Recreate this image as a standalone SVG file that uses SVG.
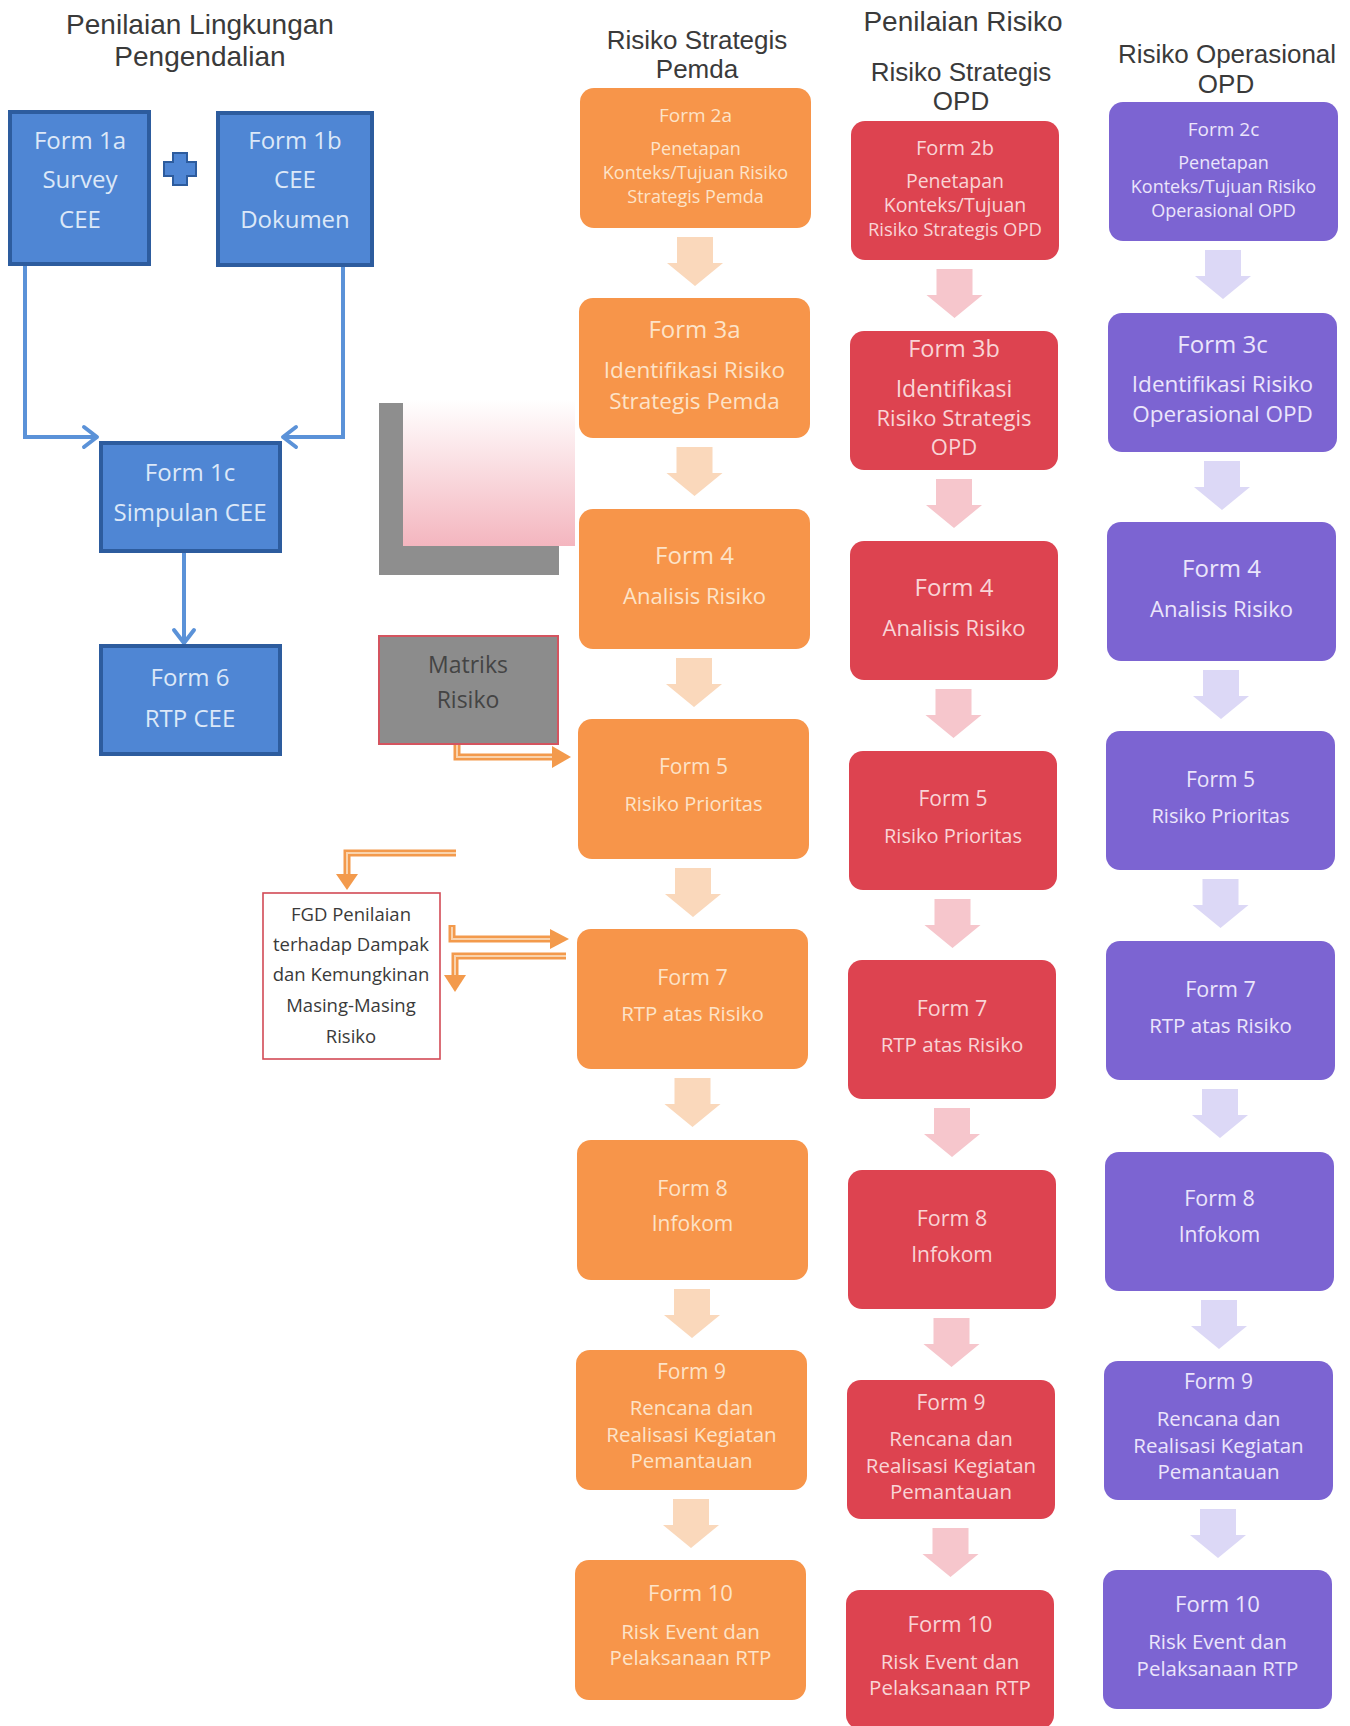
<svg xmlns="http://www.w3.org/2000/svg" width="1350" height="1726" viewBox="0 0 1350 1726">
<defs>
<style>
.h{font-family:"Liberation Sans",Arial,sans-serif;fill:#3a3a3a;text-anchor:middle}
.h1{font-size:28px}
.h2{font-size:26px}
.t{font-family:"Open Sans","Noto Sans",sans-serif;text-anchor:middle}
.ob{fill:#f7954a}
.rb{fill:#dd4350}
.pb{fill:#7c64d2}
.bb{fill:#4f86d4;stroke:#2d5c9e;stroke-width:4}
.ot{fill:#fde3c8}
.rt{fill:#f9d4d6}
.pt{fill:#ebe5fb}
.bt{fill:#dce8f8;font-size:24px}
.oa{fill:#fad8bb}
.ra{fill:#f6c6cc}
.pa{fill:#dcd8f6}
.bl{fill:none;stroke:#5b92d8;stroke-width:4}
.bh{fill:none;stroke:#5b92d8;stroke-width:4;stroke-linecap:round;stroke-linejoin:round}
.oc{fill:none;stroke:#f39a4c;stroke-width:7}
.oci{fill:none;stroke:#f9d3ad;stroke-width:2}
.ah{fill:#f39a4c}
</style>
<linearGradient id="pinkg" x1="0" y1="0" x2="0" y2="1">
<stop offset="0" stop-color="#ffffff"/>
<stop offset="1" stop-color="#f4b6bf"/>
</linearGradient>
</defs>
<rect width="1350" height="1726" fill="#ffffff"/>

<!-- headings -->
<g id="headings">
<text class="h h1" x="200" y="34">Penilaian Lingkungan</text>
<text class="h h1" x="200" y="66">Pengendalian</text>
<text class="h h1" x="963" y="31">Penilaian Risiko</text>
<text class="h h2" x="697" y="49">Risiko Strategis</text>
<text class="h h2" x="697" y="78">Pemda</text>
<text class="h h2" x="961" y="81">Risiko Strategis</text>
<text class="h h2" x="961" y="110">OPD</text>
<text class="h h2" x="1227" y="63">Risiko Operasional</text>
<text class="h h2" x="1226" y="93">OPD</text>
</g>

<!-- connectors -->
<g id="connectors">
<!-- blue -->
<path class="bl" d="M25 265 V437 H96"/>
<path class="bh" d="M84 427 L97 437 L84 447"/>
<path class="bl" d="M343 265 V437 H284"/>
<path class="bh" d="M296 427 L283 437 L296 447"/>
<path class="bl" d="M184 553 V642"/>
<path class="bh" d="M174 630 L184 643 L194 630"/>
<!-- block arrows orange -->
<path class="oa" d="M677 237 H713 V263 H723 L695 286 L667 263 H677 Z"/>
<path class="oa" d="M676.5 447 H712.5 V473 H722.5 L694.5 496 L666.5 473 H676.5 Z"/>
<path class="oa" d="M676 658 H712 V684 H722 L694 707 L666 684 H676 Z"/>
<path class="oa" d="M675 868 H711 V894 H721 L693 917 L665 894 H675 Z"/>
<path class="oa" d="M674.5 1078 H710.5 V1104 H720.5 L692.5 1127 L664.5 1104 H674.5 Z"/>
<path class="oa" d="M674 1289 H710 V1315 H720 L692 1338 L664 1315 H674 Z"/>
<path class="oa" d="M673 1499 H709 V1525 H719 L691 1548 L663 1525 H673 Z"/>
<!-- block arrows red -->
<path class="ra" d="M936.5 269 H972.5 V295 H982.5 L954.5 318 L926.5 295 H936.5 Z"/>
<path class="ra" d="M936 479 H972 V505 H982 L954 528 L926 505 H936 Z"/>
<path class="ra" d="M935.5 689 H971.5 V715 H981.5 L953.5 738 L925.5 715 H935.5 Z"/>
<path class="ra" d="M934.5 899 H970.5 V925 H980.5 L952.5 948 L924.5 925 H934.5 Z"/>
<path class="ra" d="M934 1108 H970 V1134 H980 L952 1157 L924 1134 H934 Z"/>
<path class="ra" d="M933.5 1318 H969.5 V1344 H979.5 L951.5 1367 L923.5 1344 H933.5 Z"/>
<path class="ra" d="M932.5 1528 H968.5 V1554 H978.5 L950.5 1577 L922.5 1554 H932.5 Z"/>
<!-- block arrows purple -->
<path class="pa" d="M1205 250 H1241 V276 H1251 L1223 299 L1195 276 H1205 Z"/>
<path class="pa" d="M1204 461 H1240 V487 H1250 L1222 510 L1194 487 H1204 Z"/>
<path class="pa" d="M1203 670 H1239 V696 H1249 L1221 719 L1193 696 H1203 Z"/>
<path class="pa" d="M1202.5 879 H1238.5 V905 H1248.5 L1220.5 928 L1192.5 905 H1202.5 Z"/>
<path class="pa" d="M1202 1089 H1238 V1115 H1248 L1220 1138 L1192 1115 H1202 Z"/>
<path class="pa" d="M1201 1300 H1237 V1326 H1247 L1219 1349 L1191 1326 H1201 Z"/>
<path class="pa" d="M1200 1509 H1236 V1535 H1246 L1218 1558 L1190 1535 H1200 Z"/>
<!-- orange connectors -->
<path class="oc" d="M457 740 V757 H553"/>
<path class="oci" d="M457 742 V757 H553"/>
<path class="ah" d="M552 746 L571 757 L552 768 Z"/>
<path class="oc" d="M456 853 H347 V875"/>
<path class="oci" d="M456 853 H347 V875"/>
<path class="ah" d="M336 874 L347 890 L358 874 Z"/>
<path class="oc" d="M452 925 V939 H551"/>
<path class="oci" d="M452 927 V939 H551"/>
<path class="ah" d="M550 929 L569 939 L550 949 Z"/>
<path class="oc" d="M566 956 H455 V976"/>
<path class="oci" d="M566 956 H455 V976"/>
<path class="ah" d="M444 975 L455 992 L466 975 Z"/>
</g>

<!-- blue nodes -->
<g id="form1a">
<rect class="bb" x="10" y="112" width="139" height="152"/>
<text class="t bt" x="80" y="149">Form 1a</text>
<text class="t bt" x="80" y="188">Survey</text>
<text class="t bt" x="80" y="228">CEE</text>
</g>
<g id="plus">
<path d="M173 153 H187 V162 H196 V176 H187 V185 H173 V176 H164 V162 H173 Z" fill="#4f86d4" stroke="#2d5c9e" stroke-width="2"/>
</g>
<g id="form1b">
<rect class="bb" x="218" y="113" width="154" height="152"/>
<text class="t bt" x="295" y="149">Form 1b</text>
<text class="t bt" x="295" y="188">CEE</text>
<text class="t bt" x="295" y="228">Dokumen</text>
</g>
<g id="form1c">
<rect class="bb" x="101" y="443" width="179" height="108"/>
<text class="t bt" x="190" y="481">Form 1c</text>
<text class="t bt" x="190" y="521">Simpulan CEE</text>
</g>
<g id="form6">
<rect class="bb" x="101" y="646" width="179" height="108"/>
<text class="t bt" x="190" y="686">Form 6</text>
<text class="t bt" x="190" y="727">RTP CEE</text>
</g>

<!-- decorative pink square -->
<g id="pinkshape">
<rect x="379" y="403" width="180" height="172" fill="#8e8e8e"/>
<rect x="403" y="399" width="172" height="147" fill="url(#pinkg)"/>
</g>

<g id="matriks">
<rect x="379" y="636" width="179" height="108" fill="#8c8c8c" stroke="#d4545f" stroke-width="2"/>
<text class="t" x="468" y="673" font-size="23" fill="#444">Matriks</text>
<text class="t" x="468" y="708" font-size="23" fill="#444">Risiko</text>
</g>

<g id="fgd">
<rect x="263" y="893" width="177" height="166" fill="#ffffff" stroke="#d24a55" stroke-width="1.6"/>
<text class="t" x="351" y="921" font-size="18.5" fill="#3a3a3a">FGD Penilaian</text>
<text class="t" x="351" y="951" font-size="18.5" fill="#3a3a3a">terhadap Dampak</text>
<text class="t" x="351" y="981" font-size="18.5" fill="#3a3a3a">dan Kemungkinan</text>
<text class="t" x="351" y="1012" font-size="18.5" fill="#3a3a3a">Masing-Masing</text>
<text class="t" x="351" y="1043" font-size="18.5" fill="#3a3a3a">Risiko</text>
</g>

<!-- orange column -->
<g id="o-form2a">
<rect class="ob" x="580" y="88" width="231" height="140" rx="14"/>
<text class="t ot" x="695.5" y="122" font-size="19">Form 2a</text>
<text class="t ot" x="695.5" y="155" font-size="18">Penetapan</text>
<text class="t ot" x="695.5" y="179" font-size="18">Konteks/Tujuan Risiko</text>
<text class="t ot" x="695.5" y="203" font-size="18">Strategis Pemda</text>
</g>
<g id="o-form3a">
<rect class="ob" x="579" y="298" width="231" height="140" rx="14"/>
<text class="t ot" x="694.5" y="338" font-size="24">Form 3a</text>
<text class="t ot" x="694.5" y="378" font-size="22.5">Identifikasi Risiko</text>
<text class="t ot" x="694.5" y="409" font-size="22.5">Strategis Pemda</text>
</g>
<g id="o-form4">
<rect class="ob" x="579" y="509" width="231" height="140" rx="14"/>
<text class="t ot" x="694.5" y="564" font-size="24">Form 4</text>
<text class="t ot" x="694.5" y="604" font-size="22">Analisis Risiko</text>
</g>
<g id="o-form5">
<rect class="ob" x="578" y="719" width="231" height="140" rx="14"/>
<text class="t ot" x="693.5" y="774" font-size="21">Form 5</text>
<text class="t ot" x="693.5" y="811" font-size="20">Risiko Prioritas</text>
</g>
<g id="o-form7">
<rect class="ob" x="577" y="929" width="231" height="140" rx="14"/>
<text class="t ot" x="692.5" y="985" font-size="21.5">Form 7</text>
<text class="t ot" x="692.5" y="1021" font-size="20.5">RTP atas Risiko</text>
</g>
<g id="o-form8">
<rect class="ob" x="577" y="1140" width="231" height="140" rx="14"/>
<text class="t ot" x="692.5" y="1196" font-size="21.5">Form 8</text>
<text class="t ot" x="692.5" y="1231" font-size="21">Infokom</text>
</g>
<g id="o-form9">
<rect class="ob" x="576" y="1350" width="231" height="140" rx="14"/>
<text class="t ot" x="691.5" y="1379" font-size="21">Form 9</text>
<text class="t ot" x="691.5" y="1415" font-size="20.5">Rencana dan</text>
<text class="t ot" x="691.5" y="1442" font-size="20.5">Realisasi Kegiatan</text>
<text class="t ot" x="691.5" y="1468" font-size="20.5">Pemantauan</text>
</g>
<g id="o-form10">
<rect class="ob" x="575" y="1560" width="231" height="140" rx="14"/>
<text class="t ot" x="690.5" y="1601" font-size="22">Form 10</text>
<text class="t ot" x="690.5" y="1639" font-size="20.5">Risk Event dan</text>
<text class="t ot" x="690.5" y="1665" font-size="20.5">Pelaksanaan RTP</text>
</g>

<!-- red column -->
<g id="r-form2b">
<rect class="rb" x="851" y="121" width="208" height="139" rx="14"/>
<text class="t rt" x="955" y="155" font-size="20">Form 2b</text>
<text class="t rt" x="955" y="188" font-size="19.5">Penetapan</text>
<text class="t rt" x="955" y="212" font-size="19.5">Konteks/Tujuan</text>
<text class="t rt" x="955" y="236" font-size="18.5">Risiko Strategis OPD</text>
</g>
<g id="r-form3b">
<rect class="rb" x="850" y="331" width="208" height="139" rx="14"/>
<text class="t rt" x="954" y="357" font-size="23.5">Form 3b</text>
<text class="t rt" x="954" y="397" font-size="23">Identifikasi</text>
<text class="t rt" x="954" y="426" font-size="22">Risiko Strategis</text>
<text class="t rt" x="954" y="455" font-size="22">OPD</text>
</g>
<g id="r-form4">
<rect class="rb" x="850" y="541" width="208" height="139" rx="14"/>
<text class="t rt" x="954" y="596" font-size="24">Form 4</text>
<text class="t rt" x="954" y="636" font-size="22">Analisis Risiko</text>
</g>
<g id="r-form5">
<rect class="rb" x="849" y="751" width="208" height="139" rx="14"/>
<text class="t rt" x="953" y="806" font-size="21">Form 5</text>
<text class="t rt" x="953" y="843" font-size="20">Risiko Prioritas</text>
</g>
<g id="r-form7">
<rect class="rb" x="848" y="960" width="208" height="139" rx="14"/>
<text class="t rt" x="952" y="1016" font-size="21.5">Form 7</text>
<text class="t rt" x="952" y="1052" font-size="20.5">RTP atas Risiko</text>
</g>
<g id="r-form8">
<rect class="rb" x="848" y="1170" width="208" height="139" rx="14"/>
<text class="t rt" x="952" y="1226" font-size="21.5">Form 8</text>
<text class="t rt" x="952" y="1262" font-size="21">Infokom</text>
</g>
<g id="r-form9">
<rect class="rb" x="847" y="1380" width="208" height="139" rx="14"/>
<text class="t rt" x="951" y="1410" font-size="21">Form 9</text>
<text class="t rt" x="951" y="1446" font-size="20.5">Rencana dan</text>
<text class="t rt" x="951" y="1473" font-size="20.5">Realisasi Kegiatan</text>
<text class="t rt" x="951" y="1499" font-size="20.5">Pemantauan</text>
</g>
<g id="r-form10">
<rect class="rb" x="846" y="1590" width="208" height="139" rx="14"/>
<text class="t rt" x="950" y="1632" font-size="22">Form 10</text>
<text class="t rt" x="950" y="1669" font-size="20.5">Risk Event dan</text>
<text class="t rt" x="950" y="1695" font-size="20.5">Pelaksanaan RTP</text>
</g>

<!-- purple column -->
<g id="p-form2c">
<rect class="pb" x="1109" y="102" width="229" height="139" rx="14"/>
<text class="t pt" x="1223.5" y="136" font-size="19">Form 2c</text>
<text class="t pt" x="1223.5" y="169" font-size="18">Penetapan</text>
<text class="t pt" x="1223.5" y="193" font-size="18">Konteks/Tujuan Risiko</text>
<text class="t pt" x="1223.5" y="217" font-size="18">Operasional OPD</text>
</g>
<g id="p-form3c">
<rect class="pb" x="1108" y="313" width="229" height="139" rx="14"/>
<text class="t pt" x="1222.5" y="353" font-size="24">Form 3c</text>
<text class="t pt" x="1222.5" y="392" font-size="22.5">Identifikasi Risiko</text>
<text class="t pt" x="1222.5" y="422" font-size="22.5">Operasional OPD</text>
</g>
<g id="p-form4">
<rect class="pb" x="1107" y="522" width="229" height="139" rx="14"/>
<text class="t pt" x="1221.5" y="577" font-size="24">Form 4</text>
<text class="t pt" x="1221.5" y="617" font-size="22">Analisis Risiko</text>
</g>
<g id="p-form5">
<rect class="pb" x="1106" y="731" width="229" height="139" rx="14"/>
<text class="t pt" x="1220.5" y="787" font-size="21">Form 5</text>
<text class="t pt" x="1220.5" y="823" font-size="20">Risiko Prioritas</text>
</g>
<g id="p-form7">
<rect class="pb" x="1106" y="941" width="229" height="139" rx="14"/>
<text class="t pt" x="1220.5" y="997" font-size="21.5">Form 7</text>
<text class="t pt" x="1220.5" y="1033" font-size="20.5">RTP atas Risiko</text>
</g>
<g id="p-form8">
<rect class="pb" x="1105" y="1152" width="229" height="139" rx="14"/>
<text class="t pt" x="1219.5" y="1206" font-size="21.5">Form 8</text>
<text class="t pt" x="1219.5" y="1242" font-size="21">Infokom</text>
</g>
<g id="p-form9">
<rect class="pb" x="1104" y="1361" width="229" height="139" rx="14"/>
<text class="t pt" x="1218.5" y="1389" font-size="21">Form 9</text>
<text class="t pt" x="1218.5" y="1426" font-size="20.5">Rencana dan</text>
<text class="t pt" x="1218.5" y="1453" font-size="20.5">Realisasi Kegiatan</text>
<text class="t pt" x="1218.5" y="1479" font-size="20.5">Pemantauan</text>
</g>
<g id="p-form10">
<rect class="pb" x="1103" y="1570" width="229" height="139" rx="14"/>
<text class="t pt" x="1217.5" y="1612" font-size="22">Form 10</text>
<text class="t pt" x="1217.5" y="1649" font-size="20.5">Risk Event dan</text>
<text class="t pt" x="1217.5" y="1676" font-size="20.5">Pelaksanaan RTP</text>
</g>
</svg>
